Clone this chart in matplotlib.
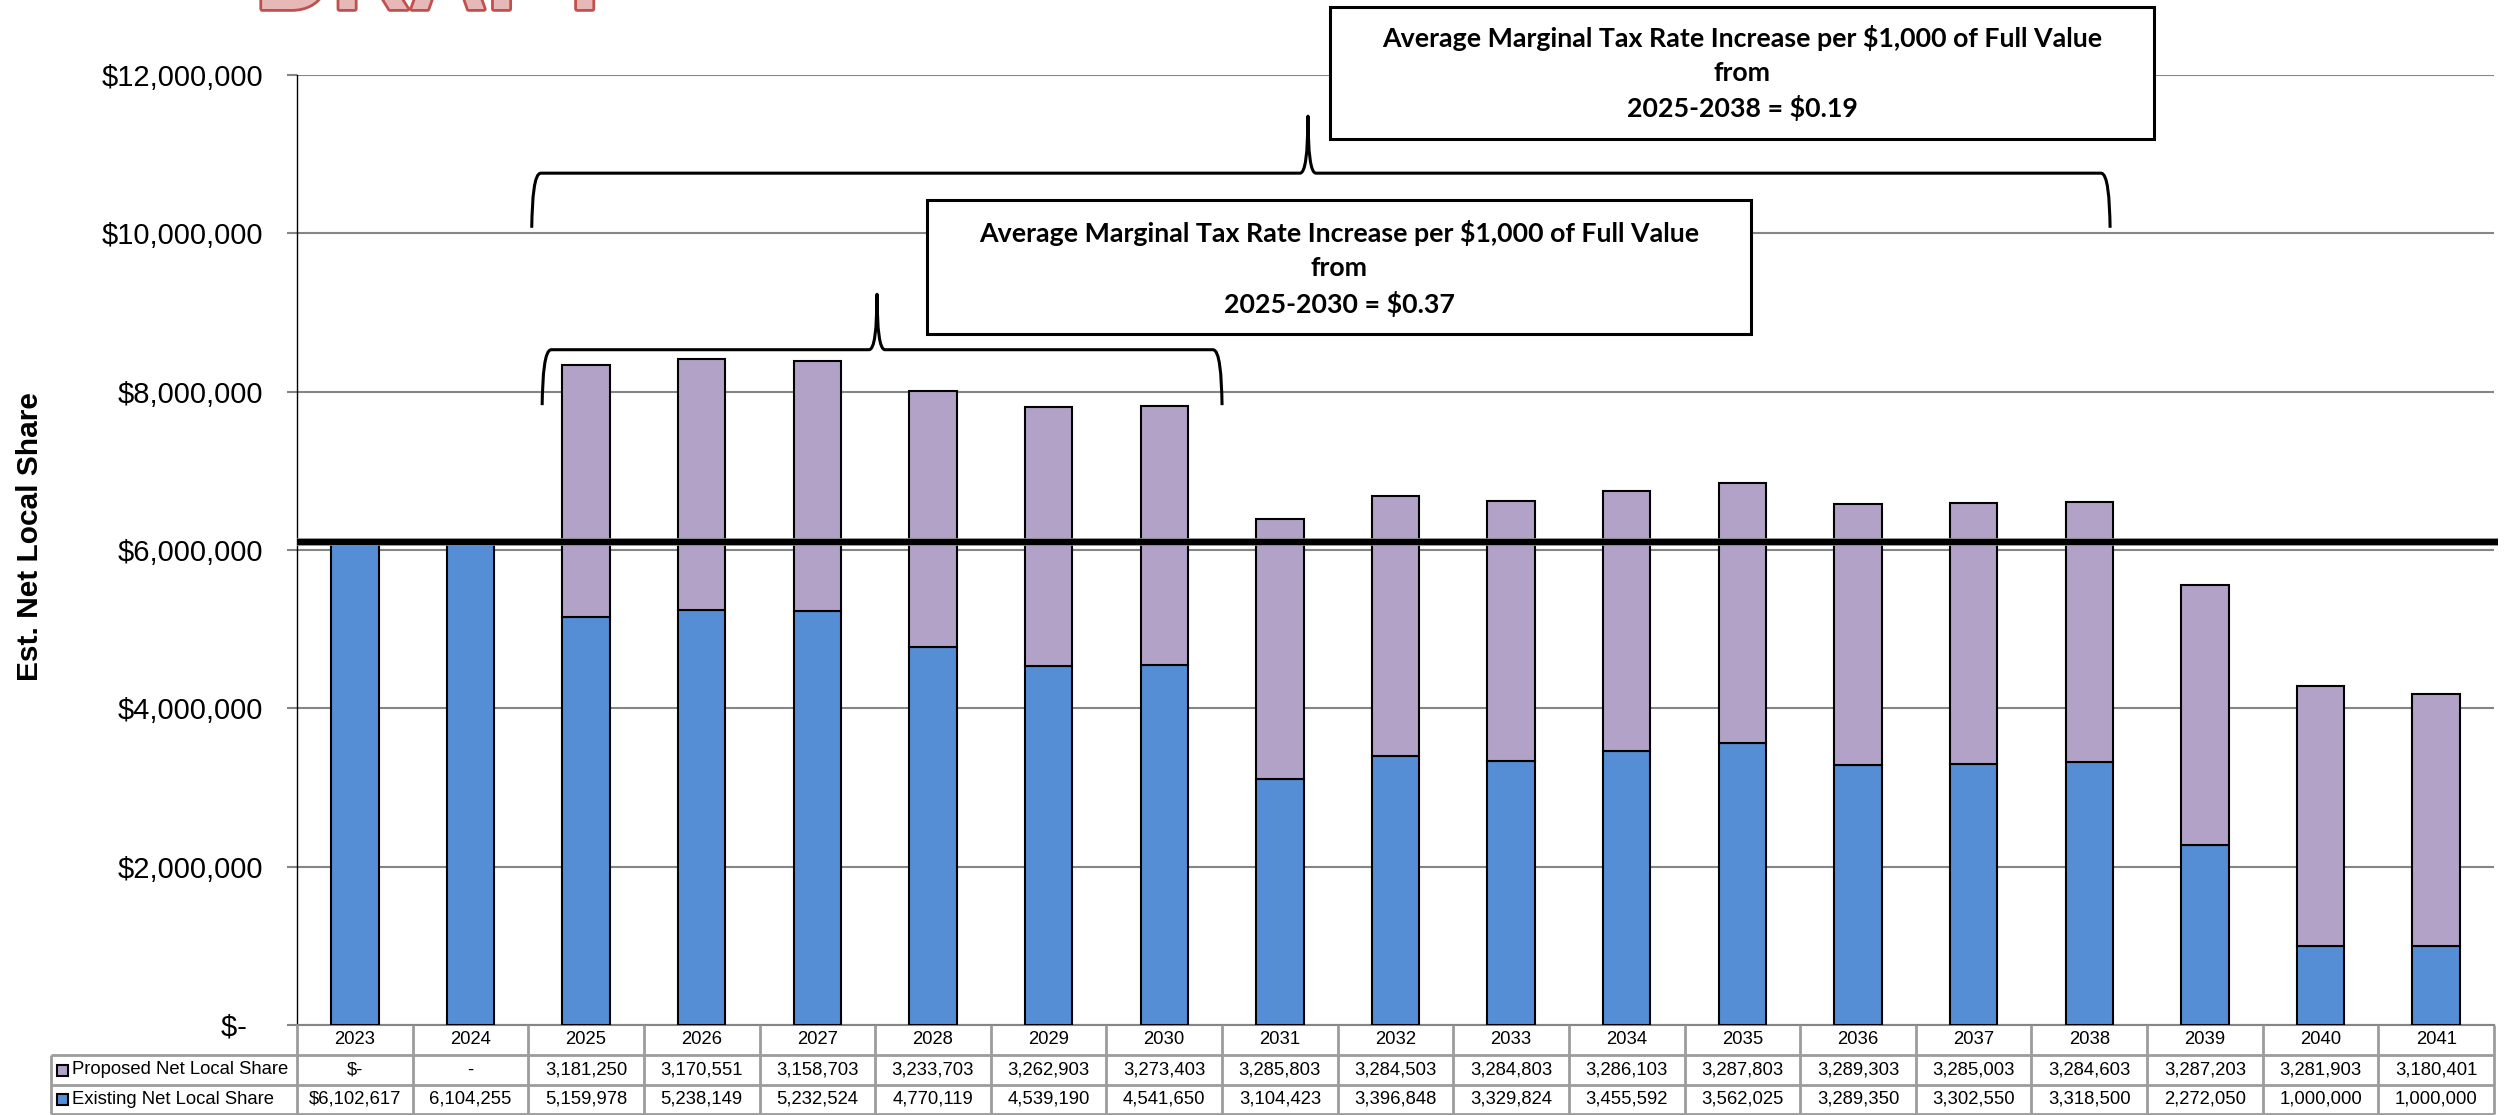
import matplotlib
matplotlib.use("Agg")
import matplotlib.pyplot as plt
from matplotlib.patches import Rectangle
from matplotlib.path import Path
from matplotlib.patches import PathPatch
from matplotlib.lines import Line2D
import matplotlib.patheffects as pe
from matplotlib.ticker import FuncFormatter

# ---- data -------------------------------------------------------------
years = [2023, 2024, 2025, 2026, 2027, 2028, 2029, 2030, 2031, 2032,
         2033, 2034, 2035, 2036, 2037, 2038, 2039, 2040, 2041]
existing = [6102617, 6104255, 5159978, 5238149, 5232524, 4770119, 4539190,
            4541650, 3104423, 3396848, 3329824, 3455592, 3562025, 3289350,
            3302550, 3318500, 2272050, 1000000, 1000000]
proposed = [0, 0, 3181250, 3170551, 3158703, 3233703, 3262903, 3273403,
            3285803, 3284503, 3284803, 3286103, 3287803, 3289303, 3285003,
            3284603, 3287203, 3281903, 3180401]
series_names = ["Proposed Net Local Share", "Existing Net Local Share"]
current_level = existing[0]
y_ticks = [0, 2000000, 4000000, 6000000, 8000000, 10000000, 12000000]
box_short = ["Average Marginal Tax Rate Increase per $1,000 of Full Value",
             "from", "2025-2030 = $0.37"]
box_long = ["Average Marginal Tax Rate Increase per $1,000 of Full Value",
            "from", "2025-2038 = $0.19"]

# ---- style ------------------------------------------------------------
BLUE = "#558ED5"
PURPLE = "#B3A2C7"
GRID = "#858585"
TABLE_LINE = "#9C9C9C"
W, H = 2516, 1115
plt.rcParams["font.family"] = ["Liberation Sans", "DejaVu Sans"]

fig = plt.figure(figsize=(W / 100, H / 100), dpi=100)


def fx(px):
    return px / W


def fy(py):
    return 1 - py / H


AX_L, AX_R, AX_T, AX_B = 297, 2494, 75, 1025
ax = fig.add_axes([fx(AX_L), fy(AX_B), fx(AX_R - AX_L), (AX_B - AX_T) / H])

x = list(range(len(years)))
bar_w = 0.41
ax.bar(x, existing, width=bar_w, color=BLUE, edgecolor="black",
       linewidth=1.5, zorder=3)
ax.bar(x, proposed, width=bar_w, bottom=existing, color=PURPLE,
       edgecolor="black", linewidth=1.5, zorder=3)

ax.set_xlim(-0.5, len(years) - 0.5)
ax.set_ylim(0, 12000000)
ax.set_yticks(y_ticks)
ax.yaxis.grid(True, color=GRID, linewidth=1.5)
ax.set_axisbelow(True)
ax.set_xticks([])


def money(v, pos=None):
    if v == 0:
        return "$-  "
    return "${:,.0f}".format(v)


ax.yaxis.set_major_formatter(FuncFormatter(money))
ax.tick_params(axis="y", length=7.5, width=1.5, color=GRID, pad=17,
               labelsize=21)
for s in ["top", "right"]:
    ax.spines[s].set_visible(False)
ax.spines["left"].set_color("black")
ax.spines["left"].set_linewidth(1.0)
ax.spines["bottom"].set_color(GRID)
ax.spines["bottom"].set_linewidth(1.5)

# current funding level line
ax.plot([-0.5, 18.535], [current_level, current_level], color="black",
        linewidth=4.5, zorder=5, clip_on=False, solid_capstyle="butt",
        path_effects=[pe.Stroke(linewidth=5.5, foreground="#9a9a9a"),
                      pe.Normal()])

fig.text(fx(30), fy(537), "Est. Net Local Share", rotation=90,
         fontsize=21.5, fontweight="bold", ha="center", va="center")


# ---- braces -----------------------------------------------------------
def brace(x0, x1, xt, yb, yh, yt):
    cx = 0.08
    tw = 0.07
    verts = [
        (x0, yb),
        (x0 + 0.005, yh - 0.45 * (yh - yb)), (x0 + 0.02, yh), (x0 + cx, yh),
        (xt - tw, yh),
        (xt - 0.3 * tw, yh), (xt - 0.03 * tw, yh + 0.35 * (yt - yh)), (xt, yt),
        (xt + 0.03 * tw, yh + 0.35 * (yt - yh)), (xt + 0.3 * tw, yh), (xt + tw, yh),
        (x1 - cx, yh),
        (x1 - 0.02, yh), (x1 - 0.005, yh - 0.45 * (yh - yb)), (x1, yb),
    ]
    codes = [Path.MOVETO,
             Path.CURVE4, Path.CURVE4, Path.CURVE4,
             Path.LINETO,
             Path.CURVE4, Path.CURVE4, Path.CURVE4,
             Path.CURVE4, Path.CURVE4, Path.CURVE4,
             Path.LINETO,
             Path.CURVE4, Path.CURVE4, Path.CURVE4]
    ax.add_patch(PathPatch(Path(verts, codes), facecolor="none",
                           edgecolor="black", linewidth=2.2, zorder=6,
                           clip_on=False, capstyle="butt", joinstyle="round"))


brace(1.62, 7.50, 4.516, 7830000, 8530000, 9230000)
brace(1.53, 15.18, 8.243, 10070000, 10760000, 11480000)


# ---- text boxes -------------------------------------------------------
def text_box(left, top, right, bottom, lines, line_y):
    fig.add_artist(Rectangle((fx(left), fy(bottom)), fx(right - left),
                             (bottom - top) / H, transform=fig.transFigure,
                             facecolor="white", edgecolor="black",
                             linewidth=2.2, zorder=7))
    cxp = (left + right) / 2
    for t, yy in zip(lines, line_y):
        fig.text(fx(cxp), fy(yy), t, ha="center", va="center",
                 fontsize=19.3, fontweight="bold", family=["Lato", "DejaVu Sans"],
                 zorder=8)


text_box(927, 200, 1751, 334, box_short, [233, 268, 304])
text_box(1330, 7, 2154, 139, box_long, [38, 73, 108])

# ---- data table -------------------------------------------------------
col_w = (AX_R - AX_L) / len(years)
T_HEAD, T_R1, T_R2, T_BOT = 1025, 1055, 1085, 1114
T_LEFT = 51
lkw = dict(color=TABLE_LINE, linewidth=2, transform=fig.transFigure,
           solid_capstyle="butt")
for k in range(len(years) + 1):
    xx = AX_L + k * col_w
    fig.add_artist(Line2D([fx(xx), fx(xx)], [fy(T_HEAD), fy(T_BOT)], **lkw))
fig.add_artist(Line2D([fx(T_LEFT), fx(T_LEFT)], [fy(T_R1), fy(T_BOT)], **lkw))
for yy in (T_R1, T_R2, T_BOT):
    fig.add_artist(Line2D([fx(T_LEFT), fx(AX_R)], [fy(yy), fy(yy)], **lkw))


def cell_text(v, col):
    if v == 0:
        return "$-" if col == 0 else "-"
    s = "{:,.0f}".format(v)
    return "$" + s if col == 0 else s


TFS = 13.3
for k, yr in enumerate(years):
    cxp = AX_L + (k + 0.5) * col_w
    fig.text(fx(cxp), fy((T_HEAD + T_R1) / 2), str(yr), ha="center",
             va="center", fontsize=TFS)
    fig.text(fx(cxp), fy((T_R1 + T_R2) / 2), cell_text(proposed[k], k),
             ha="center", va="center", fontsize=TFS)
    fig.text(fx(cxp), fy((T_R2 + T_BOT) / 2), cell_text(existing[k], k),
             ha="center", va="center", fontsize=TFS)

for name, col, (ya, yb) in zip(series_names, [PURPLE, BLUE],
                               [(T_R1, T_R2), (T_R2, T_BOT)]):
    ym = (ya + yb) / 2
    fig.add_artist(Rectangle((fx(57), fy(ym + 5.5)), fx(11), 11 / H,
                             transform=fig.transFigure, facecolor=col,
                             edgecolor="black", linewidth=1.5))
    fig.text(fx(72), fy(ym), name, ha="left", va="center", fontsize=TFS)

# ---- watermark (sits partly above the page edge) ----------------------
fig.text(fx(255), fy(9), "DRAFT", ha="left", va="baseline", fontsize=77,
         fontweight="bold", color="#E6B9B8",
         path_effects=[pe.withStroke(linewidth=4, foreground="#C0504D")])

fig.savefig("out.png", dpi=100)
